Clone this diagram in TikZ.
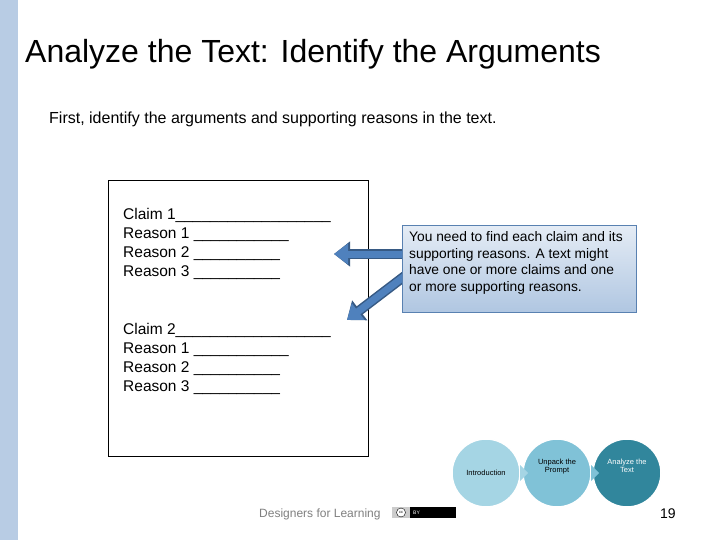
\documentclass[tikz,border=0pt]{standalone}
\usepackage{fontspec}
\setmainfont{Liberation Sans}
\usetikzlibrary{arrows.meta}
\definecolor{barblue}{HTML}{B8CCE4}
\definecolor{c1}{HTML}{A5D5E4}
\definecolor{c2}{HTML}{80C2D7}
\definecolor{c3}{HTML}{31869C}
\definecolor{arr}{HTML}{4F81BD}
\tikzset{
  line/.style={anchor=base west,font=\fontsize{15.5}{15.5}\selectfont,inner sep=0},
  circ/.style={circle,minimum size=68pt,inner sep=0,draw=white,line width=1.5pt,align=center,font=\fontsize{7.5}{8.5}\selectfont},
}
\begin{document}
\begin{tikzpicture}[x=1pt,y=-1pt]
\useasboundingbox (0,0) rectangle (720,540);
\fill[white] (0,0) rectangle (720,540);
\fill[barblue] (0,0) rectangle (18,540);
\node[anchor=base west,inner sep=0,font=\fontsize{32}{32}\selectfont] (title) at (25,63) {Analyze the Text: Identify the Arguments};
\node[anchor=base west,inner sep=0,font=\fontsize{16}{16}\selectfont] (sub) at (49,124) {First, identify the arguments and supporting reasons in the text.};
\node[draw,line width=0.6pt,minimum width=260pt,minimum height=276pt,anchor=north west,inner sep=0] (box) at (108,180) {};
\node[line] (a1) at (123,219) {Claim 1\_\_\_\_\_\_\_\_\_\_\_\_\_\_\_\_\_\_};
\node[line] (a2) at (123,238) {Reason 1 \_\_\_\_\_\_\_\_\_\_\_};
\node[line] (a3) at (123,257) {Reason 2 \_\_\_\_\_\_\_\_\_\_};
\node[line] (a4) at (123,276) {Reason 3 \_\_\_\_\_\_\_\_\_\_};
\node[line] (b1) at (123,334) {Claim 2\_\_\_\_\_\_\_\_\_\_\_\_\_\_\_\_\_\_};
\node[line] (b2) at (123,353) {Reason 1 \_\_\_\_\_\_\_\_\_\_\_};
\node[line] (b3) at (123,372) {Reason 2 \_\_\_\_\_\_\_\_\_\_};
\node[line] (b4) at (123,391) {Reason 3 \_\_\_\_\_\_\_\_\_\_};
\coordinate (t1) at (334,254);
\coordinate (t2) at (347,320);
\draw[arr!70!black,line width=10pt,-{Triangle[length=16pt,width=24pt]}] (404,254) -- (t1);
\draw[arr,line width=7pt,-{Triangle[length=14pt,width=20pt]}] (404,254) -- (t1);
\draw[arr!70!black,line width=10pt,-{Triangle[length=16pt,width=24pt]}] (410,272) -- (t2);
\draw[arr,line width=7pt,-{Triangle[length=14pt,width=20pt]}] (410,272) -- (t2);
\node[draw=arr!80!gray,line width=0.6pt,anchor=north west,minimum width=234pt,minimum height=87pt,inner sep=0,top color=arr!15,bottom color=arr!45] (call) at (402,225) {};
\node[anchor=north west,align=left,inner sep=0,font=\fontsize{13.8}{16.8}\selectfont] (ctext) at (409,231) {You need to find each claim and its\\supporting reasons. A text might\\have one or more claims and one\\or more supporting reasons.};
\node[circ,fill=c1] (intro) at (486,473) {Introduction};
\node[circ,fill=c2] (unpack) at (557,473) {Unpack the\\Prompt\\[6pt]};
\node[circ,fill=c3,text=white] (anal) at (627,473) {Analyze the\\Text\\[6pt]};
\fill[c1] (520,465) -- (528,473) -- (520,481) -- cycle;
\fill[c2] (591,465) -- (599,473) -- (591,481) -- cycle;
\node[anchor=base west,inner sep=0,text=gray,font=\fontsize{12}{12}\selectfont] (dfl) at (259,517) {Designers for Learning};
\node[fill=black,minimum width=64pt,minimum height=11pt,inner sep=0,anchor=north west] (logo) at (392,507) {};
\fill[gray!40] (392,507) rectangle (410,518);
\node[circle,draw=black,fill=white,inner sep=0,minimum size=9pt,font=\fontsize{4}{4}\selectfont] (cc) at (401,512.5) {cc};
\node[anchor=west,text=white,inner sep=0,font=\fontsize{5}{5}\selectfont] (by) at (413,512.5) {BY};
\node[anchor=base west,inner sep=0,font=\fontsize{14}{14}\selectfont] (num) at (660,518) {19};
\end{tikzpicture}
\end{document}
